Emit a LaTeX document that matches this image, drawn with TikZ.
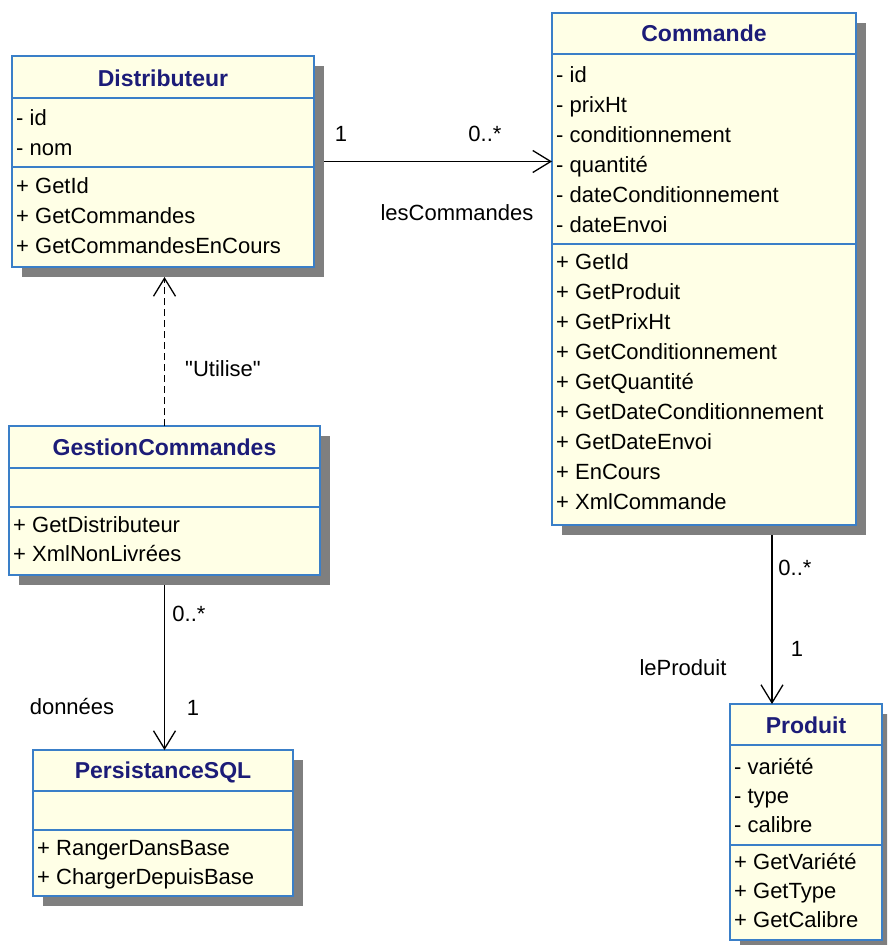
\documentclass[tikz,border=0pt]{standalone}
\usepackage{fontspec}
\setmainfont{Liberation Sans}[Ligatures=TeXOff]
\usetikzlibrary{arrows.meta,shadows}
\definecolor{cream}{HTML}{FFFFE6}
\definecolor{umlblue}{HTML}{3A7FC8}
\definecolor{navy}{HTML}{1C1C78}
\definecolor{shadowgray}{HTML}{7F7F7F}
\tikzset{
 classbox/.style={draw=umlblue, line width=1.5pt, fill=cream, anchor=north west, inner sep=0pt, outer sep=0pt,
   general shadow={fill=shadowgray, shadow xshift=10pt, shadow yshift=-10pt}},
 sepline/.style={draw=umlblue, line width=1.5pt},
 ctitle/.style={font=\fontsize{23}{27}\selectfont\bfseries, text=navy, anchor=base, inner sep=0pt},
 member/.style={font=\fontsize{22}{26}\selectfont, anchor=base west, inner sep=0pt},
 lbl/.style={font=\fontsize{22}{26}\selectfont, anchor=base, inner sep=0pt},
 assoc/.style={draw=black, line width=1.3pt, -{Straight Barb[length=18pt,width=22pt,line width=1.3pt]}},
 dep/.style={assoc, line width=1.6pt, dash pattern=on 7pt off 4pt},
}
\begin{document}
\begin{tikzpicture}[x=1pt,y=-1pt]
\clip (0,0) rectangle (887,945);
\fill[white] (0,0) rectangle (887,945);

% ---------- Distributeur ----------
\node[classbox, minimum width=302pt, minimum height=211pt] (dist) at (12,56) {};
\draw[sepline] (12,98) -- (314,98);
\draw[sepline] (12,167) -- (314,167);
\node[ctitle] (distT) at (163,86) {Distributeur};
\foreach \t [count=\i from 0] in {- id,- nom}
  \node[member] (dA\i) at (16,125+30*\i) {\t};
\foreach \t [count=\i from 0] in {+ GetId,+ GetCommandes,+ GetCommandesEnCours}
  \node[member] (dM\i) at (16,193+30*\i) {\t};

% ---------- Commande ----------
\node[classbox, minimum width=304pt, minimum height=512pt] (cmd) at (552,13) {};
\draw[sepline] (552,54) -- (856,54);
\draw[sepline] (552,244) -- (856,244);
\node[ctitle] (cmdT) at (704,41) {Commande};
\foreach \t [count=\i from 0] in {- id,- prixHt,- conditionnement,- quantité,- dateConditionnement,- dateEnvoi}
  \node[member] (cA\i) at (556,82+30*\i) {\t};
\foreach \t [count=\i from 0] in {+ GetId,+ GetProduit,+ GetPrixHt,+ GetConditionnement,+ GetQuantité,+ GetDateConditionnement,+ GetDateEnvoi,+ EnCours,+ XmlCommande}
  \node[member] (cM\i) at (556,269+30*\i) {\t};

% ---------- GestionCommandes ----------
\node[classbox, minimum width=311pt, minimum height=149pt] (gest) at (9,426) {};
\draw[sepline] (9,468) -- (320,468);
\draw[sepline] (9,507) -- (320,507);
\node[ctitle] (gestT) at (164.5,455) {GestionCommandes};
\foreach \t [count=\i from 0] in {+ GetDistributeur,+ XmlNonLivrées}
  \node[member] (gM\i) at (13,532+29*\i) {\t};

% ---------- PersistanceSQL ----------
\node[classbox, minimum width=260pt, minimum height=146pt] (pers) at (33,750) {};
\draw[sepline] (33,791) -- (293,791);
\draw[sepline] (33,830) -- (293,830);
\node[ctitle] (persT) at (163,778) {PersistanceSQL};
\foreach \t [count=\i from 0] in {+ RangerDansBase,+ ChargerDepuisBase}
  \node[member] (pM\i) at (37,855+29*\i) {\t};

% ---------- Produit ----------
\node[classbox, minimum width=152pt, minimum height=236pt] (prod) at (730,704) {};
\draw[sepline] (730,745) -- (882,745);
\draw[sepline] (730,845) -- (882,845);
\node[ctitle] (prodT) at (806,733) {Produit};
\foreach \t [count=\i from 0] in {- variété,- type,- calibre}
  \node[member] (rA\i) at (734,774+29*\i) {\t};
\foreach \t [count=\i from 0] in {+ GetVariété,+ GetType,+ GetCalibre}
  \node[member] (rM\i) at (734,869+29*\i) {\t};

% ---------- connectors ----------
\draw[assoc] ([xshift=10pt]dist.east) -- (dist.east -| cmd.west);
\node[lbl] (l1) at (341,141) {1};
\node[lbl] (l2) at (485,141) {0..*};
\node[lbl] (l3) at (457,220) {lesCommandes};

\draw[dep] (gest.north) -- ([yshift=-10pt]gest.north |- dist.south);
\node[lbl] (l4) at (223,376) {"Utilise"};

\draw[assoc] ([yshift=-10pt]gest.south) -- (gest.south |- pers.north);
\node[lbl] (l5) at (189,621) {0..*};
\node[lbl] (l6) at (72,714) {données};
\node[lbl] (l7) at (193,715) {1};

\coordinate (cp) at ([xshift=68pt,yshift=-10pt]cmd.south);
\draw[assoc] (cp) -- (cp |- prod.north);
\node[lbl] (l8) at (795,575) {0..*};
\node[lbl] (l9) at (797,656) {1};
\node[lbl] (l10) at (683,675) {leProduit};
\end{tikzpicture}
\end{document}
